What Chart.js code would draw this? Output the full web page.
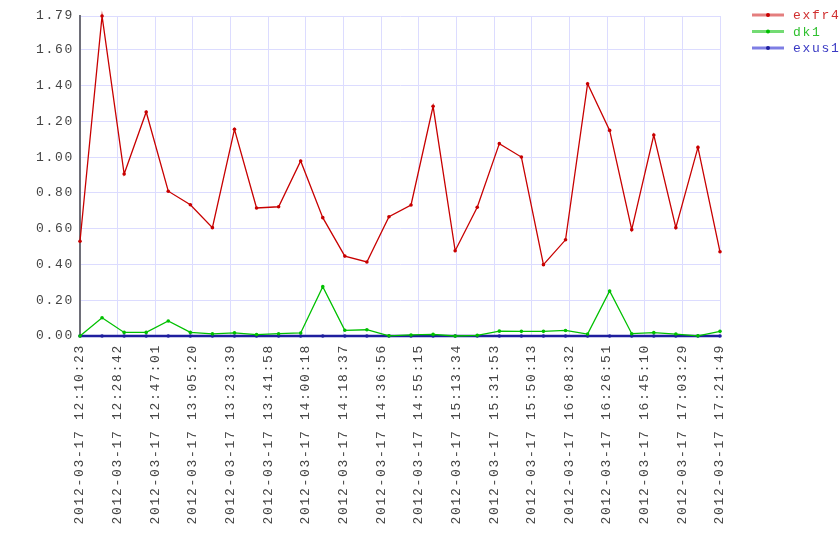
<!DOCTYPE html>
<html><head><meta charset="utf-8">
<script src="https://cdn.jsdelivr.net/npm/chart.js@4/dist/chart.umd.min.js"></script>
<style>html,body{margin:0;padding:0;background:#fff}#wrap{width:840px;height:560px}</style>
</head><body><div id="wrap"><canvas id="c" width="840" height="560"></canvas></div>
<script>
const pointTimes = [
 '12:10:23','12:21:07','12:31:52','12:42:36','12:53:20','13:04:05','13:14:49','13:25:33','13:36:18','13:47:02',
 '13:57:46','14:08:31','14:19:15','14:29:59','14:40:44','14:51:28','15:02:12','15:12:57','15:23:41','15:34:26',
 '15:45:10','15:55:54','16:06:39','16:17:23','16:28:07','16:38:52','16:49:36','17:00:20','17:11:05','17:21:49'];
const exfr4 = [0.53,1.79,0.906,1.253,0.81,0.734,0.606,1.156,0.716,0.723,
 0.979,0.662,0.447,0.414,0.667,0.733,1.285,0.477,0.72,1.076,
 1.001,0.399,0.538,1.411,1.15,0.595,1.124,0.606,1.055,0.471];
const dk1 = [0.0,0.102,0.02,0.02,0.084,0.02,0.012,0.018,0.008,0.013,
 0.017,0.276,0.032,0.035,0.001,0.006,0.009,0.0,0.004,0.027,
 0.026,0.026,0.031,0.011,0.252,0.013,0.019,0.011,0.001,0.026];
const exus1 = [0,0,0,0,0,0,0,0,0,0, 0,0,0,0,0,0,0,0,0,0, 0,0,0,0,0,0,0,0,0,0];
const xTickLabels = [
 '2012-03-17 12:10:23','2012-03-17 12:28:42','2012-03-17 12:47:01','2012-03-17 13:05:20',
 '2012-03-17 13:23:39','2012-03-17 13:41:58','2012-03-17 14:00:18','2012-03-17 14:18:37',
 '2012-03-17 14:36:56','2012-03-17 14:55:15','2012-03-17 15:13:34','2012-03-17 15:31:53',
 '2012-03-17 15:50:13','2012-03-17 16:08:32','2012-03-17 16:26:51','2012-03-17 16:45:10',
 '2012-03-17 17:03:29','2012-03-17 17:21:49'];
const yTickValues = [0,0.2,0.4,0.6,0.8,1.0,1.2,1.4,1.6,1.79];
const seriesNames = ['exfr4','dk1','exus1'];

const seriesColors = ['#c80000','#00c000','#1e1e9e'];
const legendLineColors = ['rgba(210,40,40,0.6)','rgba(40,200,40,0.65)','rgba(40,40,210,0.6)'];
const legendTextColors = ['#d03030','#30c030','#3a3ac4'];
const FONT = '"Liberation Mono", monospace';
const SPACING = '1.7px';

function toSec(t){ const p = t.includes(' ') ? t.split(' ')[1] : t; const a = p.split(':').map(Number); return a[0]*3600+a[1]*60+a[2]; }
const xs = pointTimes.map(toSec);
function pts(arr){ return arr.map((v,i)=>({x:xs[i], y:v})); }

const spacingPlugin = {
  id:'spacing',
  beforeLayout(chart){ chart.ctx.letterSpacing = SPACING; },
  beforeDraw(chart){ chart.ctx.letterSpacing = SPACING; }
};
const legendPlugin = {
  id:'customLegend',
  afterDraw(chart){
    const ctx = chart.ctx;
    ctx.save();
    ctx.letterSpacing = SPACING;
    ctx.font = '13px ' + FONT;
    ctx.textBaseline = 'middle';
    ctx.textAlign = 'left';
    seriesNames.forEach((n,i)=>{
      const y = 15 + i*16.5;
      ctx.strokeStyle = legendLineColors[i];
      ctx.lineWidth = 3;
      ctx.beginPath(); ctx.moveTo(752,y); ctx.lineTo(784,y); ctx.stroke();
      ctx.fillStyle = seriesColors[i];
      ctx.beginPath(); ctx.arc(768,y,2,0,Math.PI*2); ctx.fill();
      ctx.fillStyle = legendTextColors[i];
      ctx.fillText(n, 793, y+1);
    });
    ctx.restore();
  }
};

function ds(label, data, i, w){
  return {label, data: pts(data), borderColor: seriesColors[i], backgroundColor: seriesColors[i],
    borderWidth: w, pointRadius: 1.8, pointHoverRadius: 1.8, pointBorderWidth: 0, tension: 0, clip: false};
}

new Chart(document.getElementById('c'), {
  type:'line',
  data:{ datasets:[ ds(seriesNames[0], exfr4, 0, 1.3), ds(seriesNames[1], dk1, 1, 1.3), ds(seriesNames[2], exus1, 2, 2.6) ] },
  options:{
    responsive:false, animation:false, devicePixelRatio:1,
    layout:{ padding:{ left:0, top:16, right:120, bottom:0 } },
    plugins:{ legend:{display:false}, tooltip:{enabled:false} },
    scales:{
      x:{
        type:'linear', min: toSec(xTickLabels[0]), max: toSec(xTickLabels[xTickLabels.length-1]),
        afterBuildTicks(s){ s.ticks = xTickLabels.map(l=>({value: toSec(l)})); },
        afterFit(s){ s.height = 224; },
        ticks:{ autoSkip:false, minRotation:90, maxRotation:90, padding:8, color:'#444',
          font:{ family: FONT, size:13 }, callback:(v,i)=>xTickLabels[i] },
        grid:{ color:'#dcdcff', lineWidth:1, drawTicks:false },
        border:{ color:'#dcdcff', width:1 }
      },
      y:{
        min:0, max:1.79,
        afterBuildTicks(s){ s.ticks = yTickValues.map(v=>({value:v})); },
        afterFit(s){ s.width = 80; },
        ticks:{ padding:6, color:'#444', font:{ family: FONT, size:13 }, callback:(v)=>Number(v).toFixed(2) },
        grid:{ color:'#dcdcff', lineWidth:1, drawTicks:false },
        border:{ color:'#6e6e78', width:2 }
      }
    }
  },
  plugins:[spacingPlugin, legendPlugin]
});
</script></body></html>
